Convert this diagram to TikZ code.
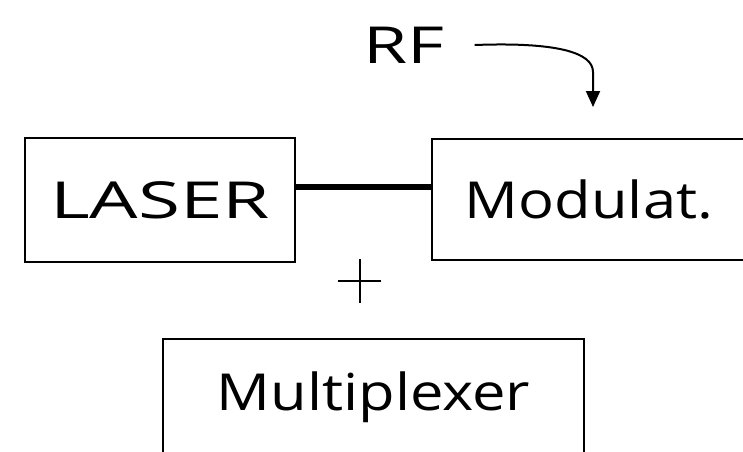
\documentclass[tikz,border=0pt]{standalone}
\usepackage{fontspec}
\setmainfont{Open Sans}
\usetikzlibrary{arrows.meta}
\newcommand{\wide}[1]{\addfontfeatures{FakeStretch=#1}}
\tikzset{
  blockbox/.style={draw=black, line width=1.3pt, inner sep=0pt, font=\fontsize{51}{60}\selectfont},
  thinline/.style={line width=1.5pt},
}
\begin{document}
\begin{tikzpicture}[x=1pt,y=-1pt]
\useasboundingbox[fill=white] (0,0) rectangle (743,451);
\node[blockbox, minimum width=270pt, minimum height=124pt] (laser) at (160,200) {\wide{1.5}LASER};
\node[blockbox, minimum width=314pt, minimum height=121pt] (mod) at (589,199.5) {\wide{1.17}Modulat.};
\node[blockbox, minimum width=421pt, minimum height=116pt] (mux) at (373.5,397) {\wide{1.17}Multiplexer};
\node[font=\fontsize{51}{60}\selectfont, inner sep=0pt] (rf) at (404,45) {\wide{1.4}RF};
\coordinate (lineY) at (0,187);
\draw[line width=6pt] (laser.east |- lineY) -- (mod.west |- lineY);
% plus sign
\draw[thinline] (338,281) -- (381,281);
\draw[thinline] (360,259) -- (360,303);
% RF arrow
\coordinate (rfstart) at ([xshift=30pt]rf.east);
\coordinate (rfend) at (593,107);
\draw[line width=2pt, -{Triangle[length=16pt,width=14pt]}]
  (rfstart) .. controls (555,42) and (593,52) .. (593,72) -- (rfend);
\end{tikzpicture}
\end{document}
